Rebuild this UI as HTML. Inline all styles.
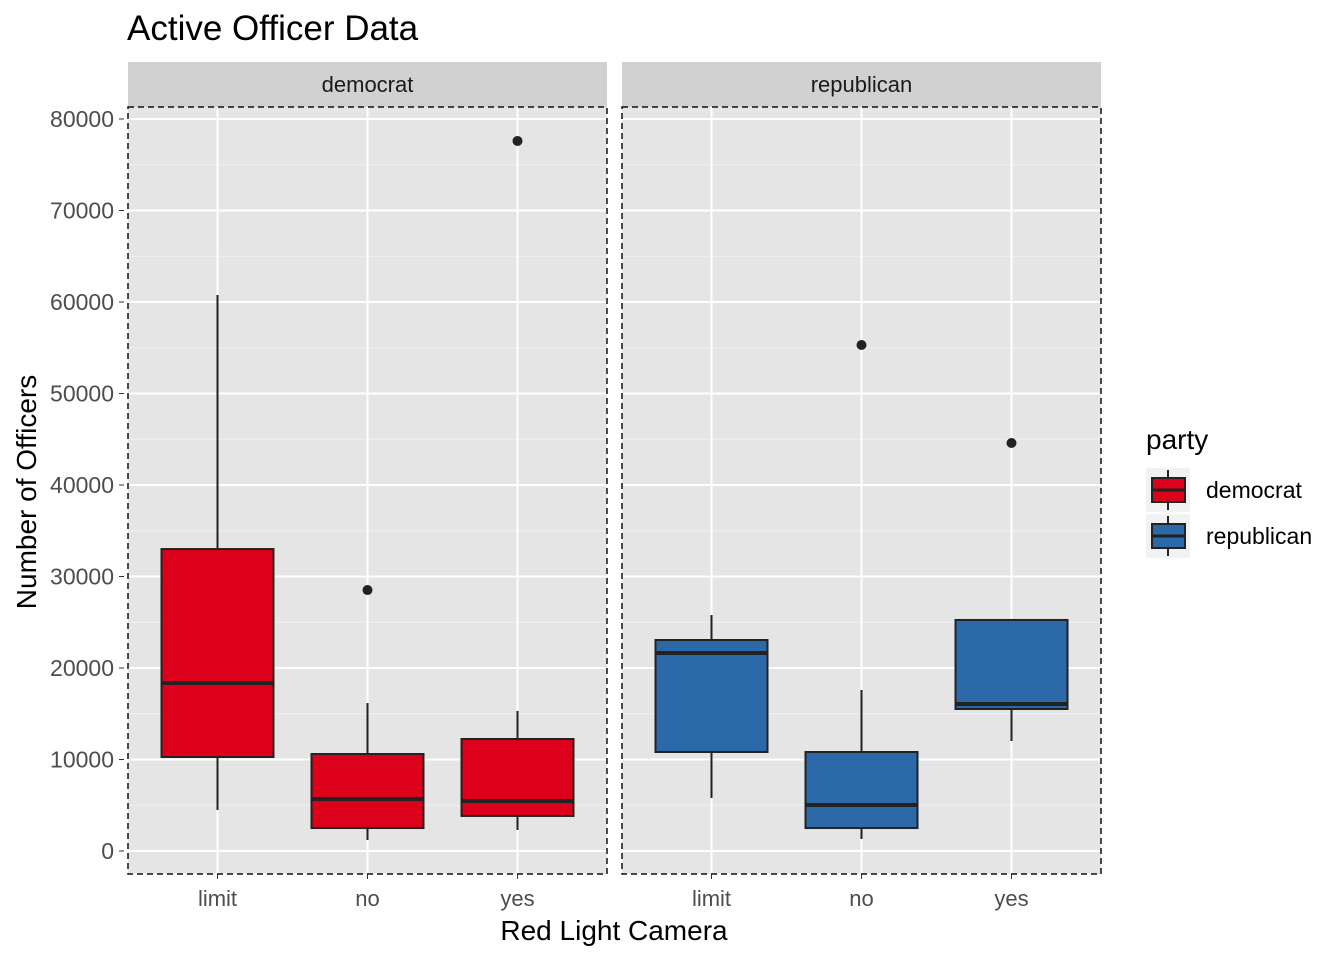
<!DOCTYPE html>
<html><head><meta charset="utf-8"><style>
body{margin:0;background:#fff;font-family:"Liberation Sans",Arial,sans-serif}
svg text{font-family:"Liberation Sans",Arial,sans-serif}
</style></head><body>
<svg id="c" width="1344" height="960" xmlns="http://www.w3.org/2000/svg">
<text x="127" y="40" font-size="35" fill="#000">Active Officer Data</text>
<text x="614" y="940" font-size="28" text-anchor="middle" fill="#000">Red Light Camera</text>
<text transform="translate(36,492) rotate(-90)" font-size="28" text-anchor="middle" fill="#000">Number of Officers</text>
<g id="legend">
<text x="1146" y="449" font-size="28" fill="#000">party</text>
</g>
</svg>
<script>
const categories=["limit","no","yes"];
const panels=["democrat","republican"];
const fills=["#DC001A","#2C69A9"];
const lowW=[[4480,1200,2300],[5790,1310,12020]];
const q1=[[10270,2510,3830],[10820,2510,15520]];
const med=[[18360,5680,5460],[21640,5030,16070]];
const q3=[[33000,10600,12240],[23060,10820,25250]];
const highW=[[60760,16170,15300],[25790,17600,25250]];
const outliers=[[[],[28520],[77600]],[[],[55300],[44590]]];
const yTicks=[0,10000,20000,30000,40000,50000,60000,70000,80000];
const NS="http://www.w3.org/2000/svg";
const svg=document.getElementById('c');
const px=[128,622],pw=479,pTop=107,pBot=874;
const y=v=>851-v*(851-119)/80000;
function mk(t,a,p){const e=document.createElementNS(NS,t);for(const k in a)e.setAttribute(k,a[k]);(p||svg).appendChild(e);return e;}
yTicks.forEach((t,i)=>{
 const tx=mk('text',{x:114,y:y(t)+8,'font-size':23,'text-anchor':'end',fill:'#4d4d4d'});tx.textContent=t;
 
 
 mk('line',{x1:119,x2:124,y1:y(t),y2:y(t),stroke:'#333','stroke-width':1});
});
panels.forEach((p,pi)=>{
 const x0=px[pi];
 const g=mk('g',{});
 
 
 mk('rect',{x:x0,y:62,width:pw,height:45,fill:'#d1d1d1'},g);
 const st=mk('text',{x:x0+pw/2,y:92,'font-size':22,'text-anchor':'middle',fill:'#1a1a1a'},g);st.textContent=p;
 
 
 mk('rect',{x:x0,y:pTop,width:pw,height:pBot-pTop,fill:'#e5e5e5'},g);
 for(let t=5000;t<=80000;t+=10000)mk('line',{x1:x0,x2:x0+pw,y1:y(t),y2:y(t),stroke:'#f2f2f2','stroke-width':1},g);
 yTicks.forEach(t=>mk('line',{x1:x0,x2:x0+pw,y1:y(t),y2:y(t),stroke:'#fff','stroke-width':2},g));
 const cx=i=>x0+89.5+i*150;
 categories.forEach((c,i)=>{
  mk('line',{x1:cx(i),x2:cx(i),y1:pTop,y2:pBot,stroke:'#fff','stroke-width':2},g);
  mk('line',{x1:cx(i),x2:cx(i),y1:pBot,y2:pBot+5,stroke:'#333'},g);
  const tl=mk('text',{x:cx(i),y:906,'font-size':22,'text-anchor':'middle',fill:'#4d4d4d'},g);tl.textContent=c;
  
  
 });
 categories.forEach((c,i)=>{
  const b=mk('g',{},g);
  
  
  const X=cx(i);
  mk('line',{x1:X,x2:X,y1:y(highW[pi][i]),y2:y(q3[pi][i]),stroke:'#222','stroke-width':2},b);
  mk('line',{x1:X,x2:X,y1:y(q1[pi][i]),y2:y(lowW[pi][i]),stroke:'#222','stroke-width':2},b);
  mk('rect',{x:X-56,y:y(q3[pi][i]),width:112,height:y(q1[pi][i])-y(q3[pi][i]),fill:fills[pi],stroke:'#222','stroke-width':2},b);
  mk('line',{x1:X-56,x2:X+56,y1:y(med[pi][i]),y2:y(med[pi][i]),stroke:'#222','stroke-width':4},b);
  outliers[pi][i].forEach(o=>{const d=mk('circle',{cx:X,cy:y(o),r:5,fill:'#222'},b);
   
   });
 });
 mk('rect',{x:x0,y:pTop,width:pw,height:pBot-pTop,fill:'none',stroke:'#111','stroke-width':1.5,'stroke-dasharray':'6,4'},g);
});
const lg=document.getElementById('legend');
panels.forEach((p,i)=>{
 const Y=468+i*46;
 const e=mk('g',{},lg);
 
 
 mk('rect',{x:1146,y:Y,width:44,height:44,fill:'#f2f2f2'},e);
 mk('line',{x1:1168,x2:1168,y1:Y+2,y2:Y+42,stroke:'#222','stroke-width':2},e);
 mk('rect',{x:1152,y:Y+10,width:33,height:24,fill:fills[i],stroke:'#222','stroke-width':2},e);
 mk('line',{x1:1152,x2:1185,y1:Y+22,y2:Y+22,stroke:'#222','stroke-width':3},e);
 const t=mk('text',{x:1206,y:Y+30,'font-size':23,fill:'#000'},e);t.textContent=p;
});
</script>
</body></html>
